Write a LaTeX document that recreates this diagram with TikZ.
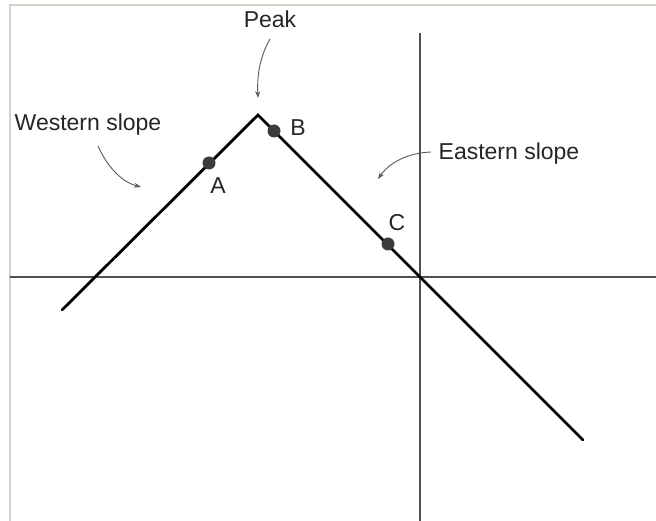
\documentclass[tikz,border=0pt]{standalone}
\usepackage{fontspec}
\setmainfont{Liberation Sans}
\usetikzlibrary{arrows.meta}
\definecolor{framegrey}{RGB}{212,208,200}
\definecolor{axisgrey}{RGB}{80,80,80}
\definecolor{dotgrey}{RGB}{60,60,60}
\definecolor{arrowgrey}{RGB}{90,90,90}
\begin{document}
\begin{tikzpicture}[x=1pt,y=-1pt,
  lbl/.style={inner sep=0pt,font=\fontsize{23}{26}\selectfont,text=black!85},
  axis/.style={draw=axisgrey,line width=1.3pt},
  slope/.style={draw=black,line width=2.8pt,line cap=round,line join=miter},
  pt/.style={circle,fill=dotgrey,inner sep=0pt,minimum size=13pt},
  callout/.style={draw=arrowgrey,line width=0.9pt,-{Stealth[length=7pt,width=5pt]}}]
\useasboundingbox (0,0) rectangle (656,521);
\fill[white] (0,0) rectangle (656,521);
% frame
\draw[framegrey,line width=1.5pt] (10,521) -- (10,5) -- (656,5);
% axes
\coordinate (xl) at (10,277);
\coordinate (xr) at (656,277);
\coordinate (yt) at (420,33);
\coordinate (yb) at (420,521);
\draw[axis] (xl) -- (xr);
\draw[axis] (yt) -- (yb);
% slope line
\coordinate (s0) at (62,310);
\coordinate (peak) at (258,115);
\coordinate (s1) at (583,440);
\draw[slope] (s0) -- (peak) -- (s1);
% points
\node[pt] (A) at (209,163) {};
\node[pt] (B) at (274,131) {};
\node[pt] (C) at (388,244) {};
\node[lbl] (lA) at (218,186) {A};
\node[lbl] (lB) at (298,128) {B};
\node[lbl] (lC) at (397,223) {C};
% labels
\node[lbl] (lpeak) at (270,19) {Peak};
\node[lbl] (lwest) at (88,125) {Western slope};
\node[lbl] (least) at (509,154) {Eastern slope};
% callout arrows
\coordinate (pa0) at (270,39);
\coordinate (pa1) at (258,98);
\draw[callout] (pa0) .. controls (259,58) and (257,78) .. (pa1);
\coordinate (wa0) at (98,146);
\coordinate (wa1) at (141,187);
\draw[callout] (wa0) .. controls (108,168) and (122,182) .. (wa1);
\coordinate (ea0) at (431,152);
\coordinate (ea1) at (378,179);
\draw[callout] (ea0) .. controls (408,153) and (390,162) .. (ea1);
\end{tikzpicture}
\end{document}
